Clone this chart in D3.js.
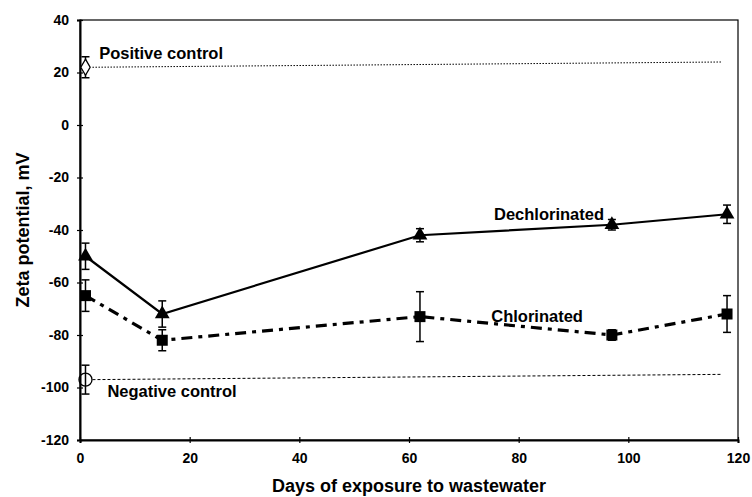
<!DOCTYPE html>
<html>
<head>
<meta charset="utf-8">
<script src="https://cdn.jsdelivr.net/npm/d3@7"></script>
<style>
  body { margin: 0; background: #fff; }
  text { font-family: "Liberation Sans", Arial, sans-serif; fill: #000; }
</style>
</head>
<body>
<script>
// chart data
const days = [1, 15, 62, 97, 118];
const dechlorinated = [-50, -72, -42, -38, -34];
const dechlorinatedErr = [5, 5, 2.5, 2, 3.5];
const chlorinated = [-65, -82, -73, -80, -72];
const chlorinatedErr = [6, 4, 9.5, 2, 7];
const positiveControl = {day: 1, value: 22, err: 4};
const negativeControl = {day: 1, value: -97, err: 5.5};
const xTicks = [0, 20, 40, 60, 80, 100, 120];
const yTicks = [40, 20, 0, -20, -40, -60, -80, -100, -120];

const width = 752;
const height = 497;

let svg = d3.select('body')
    .append('svg')
    .attr('width', width)
    .attr('height', height);

// plot box
let plot = {left: 80, right: 738, top: 20, bottom: 440};

let xScale = d3.scaleLinear()
    .domain([0, 120])
    .range([plot.left, plot.right]);
let yScale = d3.scaleLinear()
    .domain([-120, 40])
    .range([plot.bottom, plot.top]);

// frame
svg.append('rect')
    .attr('x', plot.left)
    .attr('y', plot.top)
    .attr('width', plot.right - plot.left)
    .attr('height', plot.bottom - plot.top)
    .attr('fill', 'none')
    .attr('stroke', '#000')
    .attr('stroke-width', 1.2);

// axes, ticks cross the axis line
let xAxis = d3.axisBottom(xScale).tickValues(xTicks).tickSize(3).tickPadding(10);
let xAxisGroup = svg.append('g')
    .attr('transform', `translate(0,${plot.bottom})`)
    .call(xAxis);
let yAxis = d3.axisLeft(yScale).tickValues(yTicks).tickSize(3).tickPadding(8)
    .tickFormat(d => d < 0 ? '-' + Math.abs(d) : d);
let yAxisGroup = svg.append('g')
    .attr('transform', `translate(${plot.left},0)`)
    .call(yAxis);

[xAxisGroup, yAxisGroup].forEach(g => {
    g.select('.domain').attr('stroke-width', 2);
    g.selectAll('.tick line').attr('stroke-width', 1.2);
    g.selectAll('.tick text')
        .style('font-size', '14px')
        .style('font-weight', 'bold');
});
xAxisGroup.selectAll('.tick line').attr('y1', -3);
yAxisGroup.selectAll('.tick line').attr('x1', 3);

// axis titles
svg.append('text')
    .attr('x', (plot.left + plot.right) / 2)
    .attr('y', 492)
    .attr('text-anchor', 'middle')
    .style('font-size', '18px')
    .style('font-weight', 'bold')
    .text('Days of exposure to wastewater');
svg.append('text')
    .attr('transform', `translate(29,${(plot.top + plot.bottom) / 2}) rotate(-90)`)
    .attr('text-anchor', 'middle')
    .style('font-size', '18px')
    .style('font-weight', 'bold')
    .text('Zeta potential, mV');

// control reference lines
svg.append('line')
    .attr('x1', xScale(positiveControl.day) + 7)
    .attr('x2', xScale(117))
    .attr('y1', yScale(positiveControl.value))
    .attr('y2', yScale(positiveControl.value + 2))
    .attr('stroke', '#000')
    .attr('stroke-width', 1)
    .attr('stroke-dasharray', '1.5,1.5');
svg.append('line')
    .attr('x1', xScale(negativeControl.day) + 7)
    .attr('x2', xScale(117))
    .attr('y1', yScale(negativeControl.value))
    .attr('y2', yScale(negativeControl.value + 2))
    .attr('stroke', '#000')
    .attr('stroke-width', 1)
    .attr('stroke-dasharray', '3,2');

let line = d3.line()
    .x(d => xScale(d[0]))
    .y(d => yScale(d[1]));

let dechData = days.map((d, i) => [d, dechlorinated[i], dechlorinatedErr[i]]);
let chlorData = days.map((d, i) => [d, chlorinated[i], chlorinatedErr[i]]);

svg.append('path')
    .datum(chlorData)
    .attr('d', line)
    .attr('fill', 'none')
    .attr('stroke', '#000')
    .attr('stroke-width', 3.2)
    .attr('stroke-dasharray', '11,6,4,6');
svg.append('path')
    .datum(dechData)
    .attr('d', line)
    .attr('fill', 'none')
    .attr('stroke', '#000')
    .attr('stroke-width', 2.2);

// error bars
function errorBars(data) {
    let g = svg.append('g')
        .attr('stroke', '#000')
        .attr('stroke-width', 1.5);
    data.forEach(d => {
        let x = xScale(d[0]);
        let y1 = yScale(d[1] - d[2]);
        let y2 = yScale(d[1] + d[2]);
        g.append('line').attr('x1', x).attr('x2', x).attr('y1', y1).attr('y2', y2);
        g.append('line').attr('x1', x - 4).attr('x2', x + 4).attr('y1', y1).attr('y2', y1);
        g.append('line').attr('x1', x - 4).attr('x2', x + 4).attr('y1', y2).attr('y2', y2);
    });
}
errorBars(dechData);
errorBars(chlorData);
errorBars([[positiveControl.day, positiveControl.value, positiveControl.err]]);
errorBars([[negativeControl.day, negativeControl.value, negativeControl.err]]);

// markers
svg.append('g').selectAll('path')
    .data(dechData)
    .join('path')
    .attr('transform', d => `translate(${xScale(d[0])},${yScale(d[1])})`)
    .attr('d', d3.symbol(d3.symbolTriangle, 95))
    .attr('fill', '#000');
svg.append('g').selectAll('rect')
    .data(chlorData)
    .join('rect')
    .attr('x', d => xScale(d[0]) - 5.5)
    .attr('y', d => yScale(d[1]) - 5.5)
    .attr('width', 11)
    .attr('height', 11)
    .attr('fill', '#000');
svg.append('path')
    .attr('transform', `translate(${xScale(positiveControl.day)},${yScale(positiveControl.value)})`)
    .attr('d', d3.symbol(d3.symbolDiamond, 75))
    .attr('fill', '#fff')
    .attr('stroke', '#000')
    .attr('stroke-width', 1.3);
svg.append('circle')
    .attr('cx', xScale(negativeControl.day))
    .attr('cy', yScale(negativeControl.value))
    .attr('r', 6.5)
    .attr('fill', 'none')
    .attr('stroke', '#000')
    .attr('stroke-width', 1.3);

// annotations
let labels = [
    {text: 'Positive control', x: 3.5, y: 25},
    {text: 'Negative control', x: 5, y: -103.5},
    {text: 'Dechlorinated', x: 75.5, y: -36},
    {text: 'Chlorinated', x: 75, y: -75}
];
svg.append('g').selectAll('text')
    .data(labels)
    .join('text')
    .attr('x', d => xScale(d.x))
    .attr('y', d => yScale(d.y))
    .style('font-size', '16.5px')
    .style('font-weight', 'bold')
    .text(d => d.text);
</script>
</body>
</html>
